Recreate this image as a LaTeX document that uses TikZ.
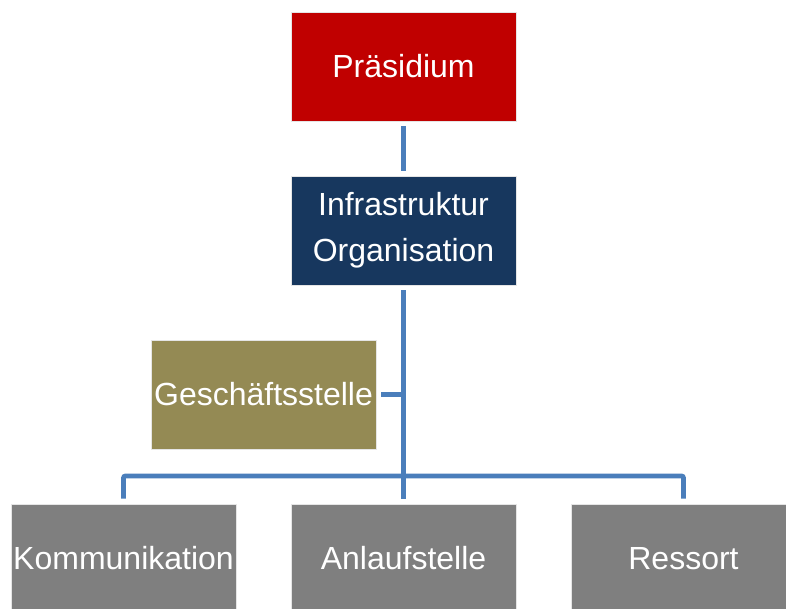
\documentclass[tikz,border=0pt]{standalone}
\usepackage{fontspec}
\setmainfont{Liberation Sans}
\definecolor{redboard}{HTML}{C00000}
\definecolor{blueinfra}{HTML}{17375E}
\definecolor{olivegs}{HTML}{948A54}
\definecolor{grayunit}{HTML}{7F7F7F}
\definecolor{blueline}{HTML}{4A7EBB}

\begin{document}
\begin{tikzpicture}[x=1pt,y=-1pt,
        unit/.style = {rectangle, draw=white!80!gray, line width=0.8pt, minimum width=225pt, minimum height=109pt,
                       inner sep=0pt, text=white, align=center, font=\fontsize{32}{46}\selectfont},
        conn/.style = {draw=blueline, line width=4.8pt, shorten <=5pt, shorten >=5pt, rounded corners=2pt}]
        \useasboundingbox (0,0) rectangle (786,608);
        \clip (0,0) rectangle (786,608);
        \node[unit,fill=redboard] (praes) at (403.5,66.5) {Präsidium};
        \node[unit,fill=blueinfra] (infra) at (403.5,230.5) {Infrastruktur\\Organisation};
        \node[unit,fill=olivegs] (gs) at (263.5,394.5) {Geschäftsstelle};
        \node[unit,fill=grayunit] (komm) at (123.5,558.5) {Kommunikation};
        \node[unit,fill=grayunit] (anl) at (403.5,558.5) {Anlaufstelle};
        \node[unit,fill=grayunit] (ress) at (683.5,558.5) {Ressort};
        \coordinate (bar) at (403.5,476);
        \draw[conn] (praes) -- (infra);
        \draw[conn] (infra) -- (anl);
        \draw[conn] (komm.north) |- (bar) -| (ress.north);
        \draw[conn,shorten >=0pt] (gs.east) -- (gs.east -| infra.south);
    \end{tikzpicture}
\end{document}
